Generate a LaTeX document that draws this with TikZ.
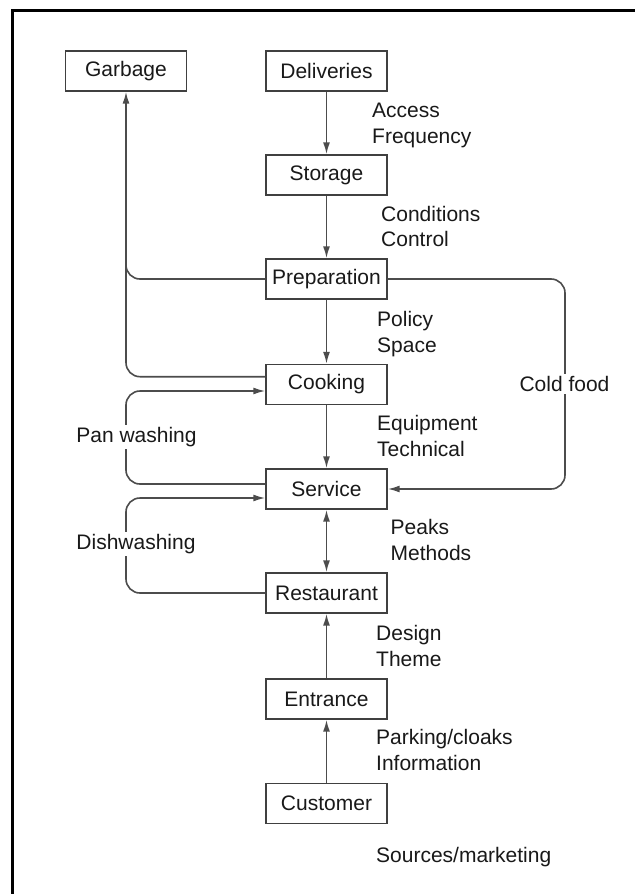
\documentclass[tikz,border=0pt]{standalone}
\usepackage{fontspec}
\setmainfont{Liberation Sans}
\usetikzlibrary{arrows.meta}
\begin{document}
\begin{tikzpicture}[x=1pt,y=-1pt,
  every node/.style={font=\fontsize{21}{26}\selectfont, text=black!90},
  box/.style={draw=black!75, line width=1.4pt, minimum width=121pt, minimum height=40pt, inner sep=0pt},
  lbl/.style={anchor=base west, inner sep=0pt},
  conn/.style={draw=black!70, line width=1.6pt, rounded corners=14pt},
  tip/.style={-{Latex[length=12pt,width=7pt]}},
  gap/.style={fill=white, inner sep=2pt}]
\useasboundingbox (0,0) rectangle (635,894);
\fill[white] (0,0) rectangle (635,894);
\draw[line width=3.5pt, black] (12.7,894) -- (12.7,10.7) -- (635,10.7);

\node[box] (garbage) at (126,71) {Garbage};
\node[box] (deliveries) at (326.5,71) {Deliveries};
\node[box] (storage) at (326.5,175) {Storage};
\node[box] (prep) at (326.5,279) {Preparation};
\node[box] (cooking) at (326.5,384.5) {Cooking};
\node[box] (service) at (326.5,489) {Service};
\node[box] (restaurant) at (326.5,593) {Restaurant};
\node[box] (entrance) at (326.5,699) {Entrance};
\node[box] (customer) at (326.5,803.5) {Customer};

\draw[conn,tip] (deliveries) -- (storage);
\draw[conn,tip] (storage) -- (prep);
\draw[conn,tip] (prep) -- (cooking);
\draw[conn,tip] (cooking) -- (service);
\draw[conn,{Latex[length=12pt,width=7pt]}-{Latex[length=12pt,width=7pt]}] (service) -- (restaurant);
\draw[conn,tip] (entrance) -- (restaurant);
\draw[conn,tip] (customer) -- (entrance);

% garbage
\coordinate (gc) at (126,376.7);
\draw[conn,tip] (cooking.west |- gc) -- (gc) -- (garbage.south);
\draw[conn] (prep.west) -- (126,279) -- (126,250);
% cold food
\draw[conn,tip] (prep.east) -- (565,279) -- (565,489) -- (service.east);
% pan washing
\draw[conn,tip] (service.west |- 0,484) -- (126,484) -- (126,391) -- (cooking.west |- 0,391);
% dishwashing
\draw[conn,tip] (restaurant.west) -- (126,593) -- (126,498) -- (service.west |- 0,498);

\node[gap] (cold) at (564.5,384) {Cold food};
\node[gap] (pan) at (136.5,437) {Pan washing};
\node[gap] (dish) at (136,544) {Dishwashing};

\node[lbl] (l1a) at (372,117) {Access};
\node[lbl] (l1b) at (372,143) {Frequency};
\node[lbl] (l2a) at (381,221) {Conditions};
\node[lbl] (l2b) at (381,246.7) {Control};
\node[lbl] (l3a) at (377,326) {Policy};
\node[lbl] (l3b) at (377,352) {Space};
\node[lbl] (l4a) at (377,430) {Equipment};
\node[lbl] (l4b) at (377,456) {Technical};
\node[lbl] (l5a) at (390.5,534.3) {Peaks};
\node[lbl] (l5b) at (390.5,560) {Methods};
\node[lbl] (l6a) at (376,640) {Design};
\node[lbl] (l6b) at (376,666) {Theme};
\node[lbl] (l7a) at (376,744.5) {Parking/cloaks};
\node[lbl] (l7b) at (376,770.5) {Information};
\node[lbl] (l8) at (376,862.5) {Sources/marketing};
\end{tikzpicture}
\end{document}
